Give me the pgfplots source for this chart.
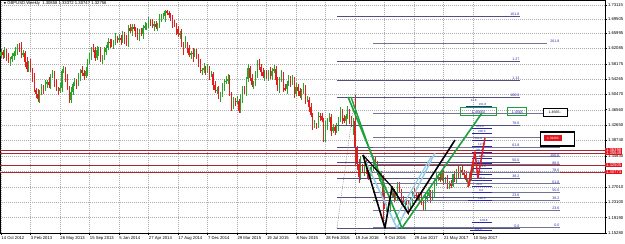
\documentclass[border=0pt]{standalone}
\usepackage{pgfplots}
\usepackage{pgfplotstable}
\pgfplotsset{compat=1.18}
\usepackage{fontspec}
\setmainfont{Liberation Sans}
\newfontfamily\dejavu{DejaVu Sans}
\definecolor{upc}{RGB}{40,165,40}
\definecolor{dnc}{RGB}{225,30,30}
\definecolor{fibA}{RGB}{80,80,125}
\definecolor{fibB}{RGB}{115,115,150}
\definecolor{fibtxt}{RGB}{40,40,170}
\definecolor{hline}{RGB}{165,40,50}
\definecolor{grn}{RGB}{30,160,60}
\definecolor{sky}{RGB}{150,205,230}
\definecolor{redlab}{RGB}{225,20,30}
\tikzset{fl/.style={font=\fontsize{3.6}{4}\selectfont, text=fibtxt, anchor=south east, inner sep=0.3pt},
         fs/.style={font=\fontsize{3.0}{3.4}\selectfont, text=fibtxt, anchor=south west, inner sep=0.2pt}}
\pgfplotstableread{
w o h l c
0 1.6030 1.6205 1.5970 1.6125
1 1.6125 1.6175 1.5930 1.6040
2 1.6040 1.6245 1.5970 1.6125
3 1.6125 1.6185 1.5895 1.5985
4 1.5985 1.6085 1.5840 1.5890
5 1.5890 1.6000 1.5760 1.5930
6 1.5930 1.6105 1.5870 1.6025
7 1.6025 1.6150 1.5915 1.6100
8 1.6100 1.6255 1.6030 1.6135
9 1.6135 1.6310 1.6045 1.6250
10 1.6250 1.6350 1.6115 1.6165
11 1.6165 1.6380 1.5955 1.6065
12 1.6065 1.6165 1.6005 1.6085
13 1.6085 1.6135 1.5750 1.5860
14 1.5860 1.5980 1.5620 1.5690
15 1.5690 1.5900 1.5600 1.5840
16 1.5840 1.5940 1.5600 1.5650
17 1.5650 1.5720 1.5365 1.5495
18 1.5495 1.5575 1.5105 1.5165
19 1.5165 1.5215 1.4940 1.5050
20 1.5050 1.5170 1.4855 1.4925
21 1.4925 1.5150 1.4835 1.5090
22 1.5090 1.5320 1.5040 1.5220
23 1.5220 1.5290 1.5060 1.5190
24 1.5190 1.5400 1.5130 1.5320
25 1.5320 1.5410 1.5210 1.5360
26 1.5360 1.5480 1.5200 1.5270
27 1.5270 1.5560 1.5180 1.5500
28 1.5500 1.5655 1.5450 1.5555
29 1.5555 1.5625 1.5230 1.5360
30 1.5360 1.5440 1.5130 1.5190
31 1.5190 1.5240 1.5030 1.5140
32 1.5140 1.5325 1.5070 1.5205
33 1.5205 1.5700 1.5115 1.5640
34 1.5640 1.5765 1.5590 1.5665
35 1.5665 1.5735 1.5355 1.5485
36 1.5485 1.5565 1.5150 1.5210
37 1.5210 1.5260 1.4815 1.4890
38 1.4890 1.5235 1.4820 1.5115
39 1.5115 1.5370 1.5025 1.5310
40 1.5310 1.5470 1.5260 1.5370
41 1.5370 1.5440 1.5190 1.5320
42 1.5320 1.5580 1.5260 1.5500
43 1.5500 1.5700 1.5390 1.5650
44 1.5650 1.5770 1.5520 1.5590
45 1.5590 1.5650 1.5410 1.5500
46 1.5500 1.5745 1.5450 1.5645
47 1.5645 1.5940 1.5515 1.5870
48 1.5870 1.6100 1.5810 1.6020
49 1.6020 1.6250 1.5910 1.6200
50 1.6200 1.6320 1.6110 1.6180
51 1.6180 1.6240 1.5880 1.5970
52 1.5970 1.6260 1.5920 1.6160
53 1.6160 1.6240 1.6030 1.6170
54 1.6170 1.6250 1.5870 1.5930
55 1.5930 1.6040 1.5820 1.5990
56 1.5990 1.6250 1.5920 1.6130
57 1.6130 1.6285 1.6040 1.6225
58 1.6225 1.6475 1.6175 1.6375
59 1.6375 1.6445 1.6230 1.6360
60 1.6360 1.6440 1.6255 1.6315
61 1.6315 1.6425 1.6205 1.6375
62 1.6375 1.6590 1.6305 1.6470
63 1.6470 1.6530 1.6340 1.6430
64 1.6430 1.6575 1.6380 1.6475
65 1.6475 1.6545 1.6290 1.6420
66 1.6420 1.6655 1.6360 1.6575
67 1.6575 1.6625 1.6325 1.6435
68 1.6435 1.6555 1.6275 1.6345
69 1.6345 1.6800 1.6255 1.6740
70 1.6740 1.6840 1.6610 1.6660
71 1.6660 1.6820 1.6530 1.6750
72 1.6750 1.6830 1.6655 1.6715
73 1.6715 1.6765 1.6510 1.6620
74 1.6620 1.6740 1.6425 1.6495
75 1.6495 1.6695 1.6405 1.6635
76 1.6635 1.6735 1.6535 1.6585
77 1.6585 1.6810 1.6455 1.6740
78 1.6740 1.6870 1.6680 1.6790
79 1.6790 1.6855 1.6680 1.6805
80 1.6805 1.7005 1.6735 1.6885
81 1.6885 1.6945 1.6770 1.6860
82 1.6860 1.6960 1.6740 1.6790
83 1.6790 1.6905 1.6660 1.6835
84 1.6835 1.6915 1.6690 1.6750
85 1.6750 1.6850 1.6640 1.6800
86 1.6800 1.7090 1.6730 1.6970
87 1.6970 1.7075 1.6880 1.7015
88 1.7015 1.7120 1.6965 1.7020
89 1.7020 1.7190 1.6890 1.7150
90 1.7150 1.7180 1.7050 1.7110
91 1.7110 1.7160 1.6970 1.7080
92 1.7080 1.7120 1.6915 1.6985
93 1.6985 1.7045 1.6735 1.6825
94 1.6825 1.6925 1.6745 1.6795
95 1.6795 1.6865 1.6560 1.6690
96 1.6690 1.6770 1.6505 1.6565
97 1.6565 1.6640 1.6455 1.6590
98 1.6590 1.6710 1.6240 1.6310
99 1.6310 1.6370 1.6055 1.6260
100 1.6260 1.6525 1.6210 1.6315
101 1.6315 1.6385 1.6085 1.6215
102 1.6215 1.6295 1.5985 1.6045
103 1.6045 1.6145 1.5935 1.6095
104 1.6095 1.6215 1.5875 1.6085
105 1.6085 1.6185 1.5995 1.6095
106 1.6095 1.6195 1.5945 1.5995
107 1.5995 1.6065 1.5730 1.5860
108 1.5860 1.5940 1.5590 1.5650
109 1.5650 1.5715 1.5540 1.5665
110 1.5665 1.5835 1.5595 1.5715
111 1.5715 1.5775 1.5535 1.5625
112 1.5625 1.5805 1.5575 1.5705
113 1.5705 1.5775 1.5415 1.5545
114 1.5545 1.5640 1.5485 1.5560
115 1.5560 1.5610 1.5160 1.5270
116 1.5270 1.5390 1.5075 1.5145
117 1.5145 1.5225 1.5055 1.5165
118 1.5165 1.5265 1.4935 1.4985
119 1.4985 1.5115 1.4855 1.5045
120 1.5045 1.5330 1.4985 1.5250
121 1.5250 1.5430 1.5140 1.5380
122 1.5380 1.5515 1.5310 1.5395
123 1.5395 1.5550 1.5305 1.5435
124 1.5435 1.5535 1.4995 1.5045
125 1.5045 1.5115 1.4635 1.4725
126 1.4725 1.4985 1.4665 1.4905
127 1.4905 1.4955 1.4755 1.4865
128 1.4865 1.4995 1.4795 1.4875
129 1.4875 1.4935 1.4565 1.4625
130 1.4625 1.5065 1.4575 1.4965
131 1.4965 1.5255 1.4835 1.5185
132 1.5185 1.5265 1.5065 1.5125
133 1.5125 1.5490 1.5015 1.5440
134 1.5440 1.5815 1.5370 1.5715
135 1.5715 1.5775 1.5380 1.5470
136 1.5470 1.5570 1.5235 1.5285
137 1.5285 1.5380 1.5170 1.5310
138 1.5310 1.5645 1.5250 1.5565
139 1.5565 1.5925 1.5455 1.5875
140 1.5875 1.5930 1.5675 1.5745
141 1.5745 1.5805 1.5515 1.5605
142 1.5605 1.5705 1.5465 1.5515
143 1.5515 1.5655 1.5385 1.5585
144 1.5585 1.5665 1.5445 1.5505
145 1.5505 1.5665 1.5395 1.5615
146 1.5615 1.5735 1.5435 1.5505
147 1.5505 1.5705 1.5415 1.5645
148 1.5645 1.5800 1.5595 1.5700
149 1.5700 1.5770 1.5270 1.5400
150 1.5400 1.5480 1.5125 1.5185
151 1.5185 1.5485 1.5075 1.5435
152 1.5435 1.5660 1.5365 1.5540
153 1.5540 1.5600 1.5105 1.5195
154 1.5195 1.5295 1.5130 1.5180
155 1.5180 1.5385 1.5050 1.5315
156 1.5315 1.5540 1.5255 1.5460
157 1.5460 1.5510 1.5240 1.5350
158 1.5350 1.5545 1.5280 1.5425
159 1.5425 1.5485 1.4955 1.5045
160 1.5045 1.5335 1.4995 1.5235
161 1.5235 1.5305 1.4995 1.5125
162 1.5125 1.5205 1.4945 1.5005
163 1.5005 1.5170 1.4895 1.5120
164 1.5120 1.5330 1.5050 1.5210
165 1.5210 1.5270 1.4805 1.4895
166 1.4895 1.5005 1.4845 1.4905
167 1.4905 1.4975 1.4605 1.4735
168 1.4735 1.4815 1.4470 1.4530
169 1.4530 1.4580 1.4140 1.4250
170 1.4250 1.4390 1.4180 1.4270
171 1.4270 1.4330 1.4155 1.4245
172 1.4245 1.4600 1.4195 1.4500
173 1.4500 1.4570 1.4365 1.4495
174 1.4495 1.4575 1.4340 1.4400
175 1.4400 1.4450 1.3835 1.3895
176 1.3895 1.4360 1.3825 1.4240
177 1.4240 1.4445 1.4150 1.4385
178 1.4385 1.4575 1.4335 1.4475
179 1.4475 1.4545 1.3990 1.4120
180 1.4120 1.4290 1.4060 1.4210
181 1.4210 1.4260 1.4015 1.4125
182 1.4125 1.4320 1.4055 1.4200
183 1.4200 1.4465 1.4110 1.4405
184 1.4405 1.4715 1.4355 1.4615
185 1.4615 1.4685 1.4305 1.4435
186 1.4435 1.4515 1.4310 1.4370
187 1.4370 1.4545 1.4260 1.4495
188 1.4495 1.4740 1.4425 1.4620
189 1.4620 1.4680 1.4305 1.4395
190 1.4395 1.4495 1.4205 1.4255
191 1.4255 1.4440 1.4010 1.4370
192 1.4370 1.5018 1.3228 1.3680
193 1.3680 1.3730 1.3120 1.3290
194 1.3290 1.3410 1.2800 1.2950
195 1.2950 1.3480 1.2860 1.3170
196 1.3170 1.3270 1.3060 1.3110
197 1.3110 1.3300 1.2980 1.3230
198 1.3230 1.3370 1.3020 1.3080
199 1.3080 1.3130 1.2865 1.2935
200 1.2935 1.3195 1.2865 1.3075
201 1.3075 1.3220 1.2985 1.3160
202 1.3160 1.3385 1.3110 1.3285
203 1.3285 1.3445 1.3135 1.3265
204 1.3265 1.3345 1.2990 1.3050
205 1.3050 1.3100 1.2855 1.2965
206 1.2965 1.3090 1.2895 1.2970
207 1.2970 1.2995 1.1841 1.2430
208 1.2430 1.2530 1.2135 1.2185
209 1.2185 1.2270 1.2055 1.2200
210 1.2200 1.2280 1.2085 1.2180
211 1.2180 1.2530 1.2070 1.2480
212 1.2480 1.2715 1.2410 1.2595
213 1.2595 1.2655 1.2320 1.2410
214 1.2410 1.2570 1.2360 1.2470
215 1.2470 1.2810 1.2340 1.2740
216 1.2740 1.2820 1.2545 1.2605
217 1.2605 1.2655 1.2245 1.2355
218 1.2355 1.2475 1.2190 1.2260
219 1.2260 1.2400 1.2170 1.2340
220 1.2340 1.2440 1.2230 1.2280
221 1.2280 1.2350 1.1990 1.2180
222 1.2180 1.2450 1.2120 1.2370
223 1.2370 1.2600 1.2260 1.2550
224 1.2550 1.2670 1.2415 1.2485
225 1.2485 1.2545 1.2390 1.2480
226 1.2480 1.2580 1.2360 1.2410
227 1.2410 1.2525 1.2280 1.2455
228 1.2455 1.2535 1.2230 1.2290
229 1.2290 1.2340 1.2110 1.2170
230 1.2170 1.2520 1.2100 1.2400
231 1.2400 1.2535 1.2310 1.2475
232 1.2475 1.2645 1.2425 1.2545
233 1.2545 1.2615 1.2285 1.2415
234 1.2415 1.2620 1.2355 1.2540
235 1.2540 1.2905 1.2430 1.2800
236 1.2800 1.3065 1.2730 1.2945
237 1.2945 1.3020 1.2855 1.2960
238 1.2960 1.3060 1.2830 1.2880
239 1.2880 1.3115 1.2850 1.3045
240 1.3045 1.3125 1.2745 1.2805
241 1.2805 1.2940 1.2770 1.2890
242 1.2890 1.3010 1.2635 1.2745
243 1.2745 1.2840 1.2655 1.2780
244 1.2780 1.2880 1.2670 1.2720
245 1.2720 1.3030 1.2690 1.3025
246 1.3025 1.3105 1.2825 1.2885
247 1.2885 1.3150 1.2775 1.3100
248 1.3100 1.3220 1.2930 1.3000
249 1.3000 1.3195 1.2910 1.3135
250 1.3135 1.3265 1.2995 1.3045
251 1.3045 1.3115 1.2915 1.3010
252 1.3010 1.3090 1.2815 1.2875
253 1.2875 1.2930 1.2770 1.2880
254 1.2880 1.3055 1.2810 1.2935
255 1.2935 1.3146 1.2845 1.3086
256 1.30858 1.33372 1.30747 1.32756
}\candles
\begin{document}
\begin{tikzpicture}
\begin{axis}[
  at={(0pt,11pt)}, anchor=south west,
  scale only axis, width=605pt, height=233pt,
  xmin=-0.5, xmax=327.5, ymin=1.1528, ymax=1.7438,
  clip=false,
  axis line style={black, line width=0.5pt},
  xtick={0,16,...,256},
  xticklabels={14 Oct 2012, 3 Feb 2013, 26 May 2013, 15 Sep 2013, 5 Jan 2014, 27 Apr 2014, 17 Aug 2014, 7 Dec 2014, 29 Mar 2015, 19 Jul 2015, 8 Nov 2015, 28 Feb 2016, 19 Jun 2016, 9 Oct 2016, 29 Jan 2017, 21 May 2017, 10 Sep 2017},
  ytick={1.15280,1.19190,1.23100,1.27010,1.34830,1.38740,1.42650,1.46560,1.50470,1.54265,1.58175,1.62085,1.65995,1.69505,1.73115},
  extra y ticks={1.30920}, extra y tick labels={},
  extra y tick style={grid=major},
  yticklabel pos=right, ytick pos=right, xtick pos=left,
  /pgf/number format/.cd, fixed, fixed zerofill, precision=5, assume math mode=true, /pgfplots/.cd,
  tick align=outside, major tick length=2pt,
  tick style={black, line width=0.4pt},
  tick label style={font=\fontsize{4.2}{5}\selectfont},
  xticklabel style={anchor=north west, inner xsep=0.3pt, inner ysep=1pt},
  yticklabel style={anchor=west, inner xsep=0.8pt},
  grid=major,
  major grid style={gray!65, dash pattern=on 0.8pt off 1.2pt, line width=0.35pt},
]
% ---- candles: wicks and bodies ----
\addplot[draw=none, forget plot, restrict expr to domain={\thisrow{c}-\thisrow{o}}{0:1},
  error bars/.cd, y dir=both, y explicit, error mark=none, error bar style={draw=upc, line width=0.45pt}]
  table[x=w, y expr={(\thisrow{h}+\thisrow{l})/2}, y error expr={(\thisrow{h}-\thisrow{l})/2}] {\candles};
\addplot[draw=none, forget plot, restrict expr to domain={\thisrow{o}-\thisrow{c}}{0.000001:1},
  error bars/.cd, y dir=both, y explicit, error mark=none, error bar style={draw=dnc, line width=0.45pt}]
  table[x=w, y expr={(\thisrow{h}+\thisrow{l})/2}, y error expr={(\thisrow{h}-\thisrow{l})/2}] {\candles};
\addplot[draw=none, forget plot, restrict expr to domain={\thisrow{c}-\thisrow{o}}{0:1},
  error bars/.cd, y dir=both, y explicit, error mark=none, error bar style={draw=upc, line width=1.2pt}]
  table[x=w, y expr={(\thisrow{o}+\thisrow{c})/2}, y error expr={(\thisrow{c}-\thisrow{o})/2}] {\candles};
\addplot[draw=none, forget plot, restrict expr to domain={\thisrow{o}-\thisrow{c}}{0.000001:1},
  error bars/.cd, y dir=both, y explicit, error mark=none, error bar style={draw=dnc, line width=1.2pt}]
  table[x=w, y expr={(\thisrow{o}+\thisrow{c})/2}, y error expr={(\thisrow{o}-\thisrow{c})/2}] {\candles};
% ---- full-width horizontal lines ----
\pgfplotsinvokeforeach{1.36396,1.35549,1.32505,1.30773}{\addplot[hline, line width=0.5pt, forget plot] coordinates {(-0.5,#1) (327.5,#1)};}
% ---- fib 1 ----
\pgfplotsinvokeforeach{1.1655,1.2439,1.2924,1.3317,1.3709,1.4267,1.4978,1.5410,1.5882,1.7032}{\addplot[fibA, line width=0.5pt, forget plot] coordinates {(182.2,#1) (281.4,#1)};}
\node[fl] at (axis cs:281.4,1.1655) {0.0};
\node[fl] at (axis cs:281.4,1.2439) {23.6};
\node[fl] at (axis cs:281.4,1.2924) {38.2};
\node[fl] at (axis cs:281.4,1.3317) {50.0};
\node[fl] at (axis cs:281.4,1.3709) {61.8};
\node[fl] at (axis cs:281.4,1.4267) {78.6};
\node[fl] at (axis cs:281.4,1.4978) {100.0};
\node[fl] at (axis cs:281.4,1.5410) {1.13};
\node[fl] at (axis cs:281.4,1.5882) {1.27};
\node[fl] at (axis cs:281.4,1.7032) {161.8};
% ---- fib 2 ----
\pgfplotsinvokeforeach{1.1680,1.2101,1.2361,1.2572,1.2782,1.3081,1.3260,1.3463,1.3695,1.3948,1.4565}{\addplot[fibB, line width=0.5pt, forget plot] coordinates {(201.7,#1) (303.1,#1)};}
\addplot[fibB, line width=0.5pt, forget plot] coordinates {(201.7,1.6348) (296.1,1.6348)};
\node[fl] at (axis cs:303.1,1.1680) {0.0};
\node[fl] at (axis cs:303.1,1.2101) {23.6};
\node[fl] at (axis cs:303.1,1.2361) {38.2};
\node[fl] at (axis cs:303.1,1.2572) {50.0};
\node[fl] at (axis cs:303.1,1.2782) {61.8};
\node[fl] at (axis cs:303.1,1.3081) {78.6};
\node[fl] at (axis cs:303.1,1.3260) {88.6};
\node[fl] at (axis cs:303.1,1.3463) {100.0};
\node[fl] at (axis cs:303.1,1.3695) {1.13};
\node[fl] at (axis cs:303.1,1.6348) {261.8};
% ---- small blue fib cluster ----
\pgfplotsinvokeforeach{1.4191,1.4065,1.3887,1.3735,1.3583,1.3430,1.3303,1.3177,1.3024,1.2872,1.2720,1.2568}{\addplot[fibtxt, line width=0.4pt, forget plot] coordinates {(255.4,#1) (266.2,#1)};}
\node[fs] at (axis cs:257.5,1.4191) {261.8};
\node[fs] at (axis cs:258.5,1.4065) {200.0};
\node[fs] at (axis cs:256.5,1.3887) {161.8};
\node[fs] at (axis cs:258.5,1.3735) {127.2};
\node[fs] at (axis cs:257.0,1.3583) {100.0};
\node[fs] at (axis cs:259.0,1.3430) {88.6};
\node[fs] at (axis cs:257.5,1.3303) {78.6};
\node[fs] at (axis cs:259.5,1.3177) {61.8};
\node[fs] at (axis cs:257.5,1.3024) {50.0};
\node[fs] at (axis cs:259.0,1.2872) {38.2};
\node[fs] at (axis cs:257.5,1.2720) {23.6};
\node[fs] at (axis cs:259.0,1.2568) {0.0};
\addplot[fibtxt, line width=0.4pt, forget plot] coordinates {(252.2,1.4749) (266.2,1.4749)};
\node[fs] at (axis cs:258.8,1.4749) {161.8};
\node[fs] at (axis cs:254.5,1.4850) {41.8};
\addplot[fibtxt, line width=0.4pt, forget plot] coordinates {(253.2,1.2365) (266.2,1.2365)};
\node[fs] at (axis cs:258.5,1.2365) {180.0};
\addplot[fibtxt, line width=0.4pt, forget plot] coordinates {(255.4,1.1807) (266.2,1.1807)};
\node[fs] at (axis cs:259.5,1.1807) {3.618};
\addplot[fibtxt, line width=0.4pt, forget plot] coordinates {(254.3,1.1590) (266.2,1.1590)};
\node[fs] at (axis cs:256.5,1.1590) {161.8};
% ---- dotted trend line ----
\addplot[gray, line width=0.5pt, dash pattern=on 0.8pt off 1pt, forget plot] coordinates {(182.2,1.1655) (192.0,1.5028)};
% ---- harmonic patterns ----
\addplot[sky, line width=1.5pt, line join=round, forget plot] coordinates {(197.9,1.3329) (214.7,1.1655) (235.3,1.3557)};
\addplot[sky, line width=1.2pt, forget plot] coordinates {(212.6,1.1807) (233.2,1.3456)};
\addplot[grn, line width=1.6pt, line join=round, forget plot] coordinates {(188.2,1.4978) (217.4,1.1655) (260.8,1.4572)};
\addplot[grn, line width=1.4pt, forget plot] coordinates {(189.8,1.4978) (208.2,1.2543)};
\addplot[black, line width=1.6pt, line join=round, forget plot] coordinates {(196.3,1.3506) (208.2,1.1655) (212.0,1.2695) (220.7,1.2035) (246.2,1.3887)};
\addplot[black, line width=1.2pt, forget plot] coordinates {(196.3,1.3506) (212.0,1.2695)};
\addplot[dnc, line width=1.5pt, line join=round, forget plot] coordinates {(253.2,1.2695) (257.0,1.3583) (258.6,1.2923) (262.4,1.3938)};
\addplot[dnc, line width=1.1pt, forget plot] coordinates {(253.8,1.2720) (256.6,1.3330)};
% ---- boxes on the 161.8 level ----
\draw[grn, line width=1pt] (axis cs:248.9,1.4699) rectangle (axis cs:268.9,1.4496);
\node[font=\fontsize{3.6}{4}\selectfont, text=fibtxt, inner sep=0pt] at (axis cs:258.9,1.4598) {1.45650};
\draw[grn, line width=1pt] (axis cs:274.9,1.4699) rectangle (axis cs:285.2,1.4496);
\node[font=\fontsize{3.6}{4}\selectfont, text=fibtxt, inner sep=0pt] at (axis cs:280.0,1.4598) {1.4565};
\draw[black, line width=0.9pt, fill=white] (axis cs:293.9,1.4699) rectangle (axis cs:306.9,1.4496);
\node[font=\fontsize{3.6}{4}\selectfont, text=black, inner sep=0pt] at (axis cs:300.4,1.4598) {1.4565\,-};
\draw[black, line width=1.1pt, fill=white] (axis cs:292.3,1.4090) rectangle (axis cs:311.2,1.3735);
\fill[redlab] (axis cs:294.4,1.4014) rectangle (axis cs:304.2,1.3862);
\node[font=\fontsize{3.2}{4}\selectfont, text=white, inner sep=0pt] at (axis cs:299.3,1.3938) {1.39480};
% ---- title ----
\node[anchor=north west, font=\fontsize{4.2}{5}\selectfont, inner sep=0pt] at (axis cs:1.5,1.7395) {{\dejavu\fontsize{3}{4}\selectfont ▼}\ GBPUSD,Weekly\ \ 1.30858 1.33372 1.30747 1.32756};
% ---- right-side price labels ----
\node[anchor=west, fill=redlab, text=white, font=\fontsize{4.2}{5}\selectfont, inner xsep=0.8pt, inner ysep=0.5pt] at (axis cs:327.5,1.36396) {1.36396};
\node[anchor=west, fill=redlab, text=white, font=\fontsize{4.2}{5}\selectfont, inner xsep=0.8pt, inner ysep=0.5pt] at (axis cs:327.5,1.35549) {1.35549};
\node[anchor=west, fill=redlab, text=white, font=\fontsize{4.2}{5}\selectfont, inner xsep=0.8pt, inner ysep=0.5pt] at (axis cs:327.5,1.32505) {1.32505};
\node[anchor=west, fill=redlab, text=white, font=\fontsize{4.2}{5}\selectfont, inner xsep=0.8pt, inner ysep=0.5pt] at (axis cs:327.5,1.30773) {1.30773};
\end{axis}
\pgfresetboundingbox
\path[use as bounding box] (0,0) rectangle (625pt,244pt);
\end{tikzpicture}
\end{document}
